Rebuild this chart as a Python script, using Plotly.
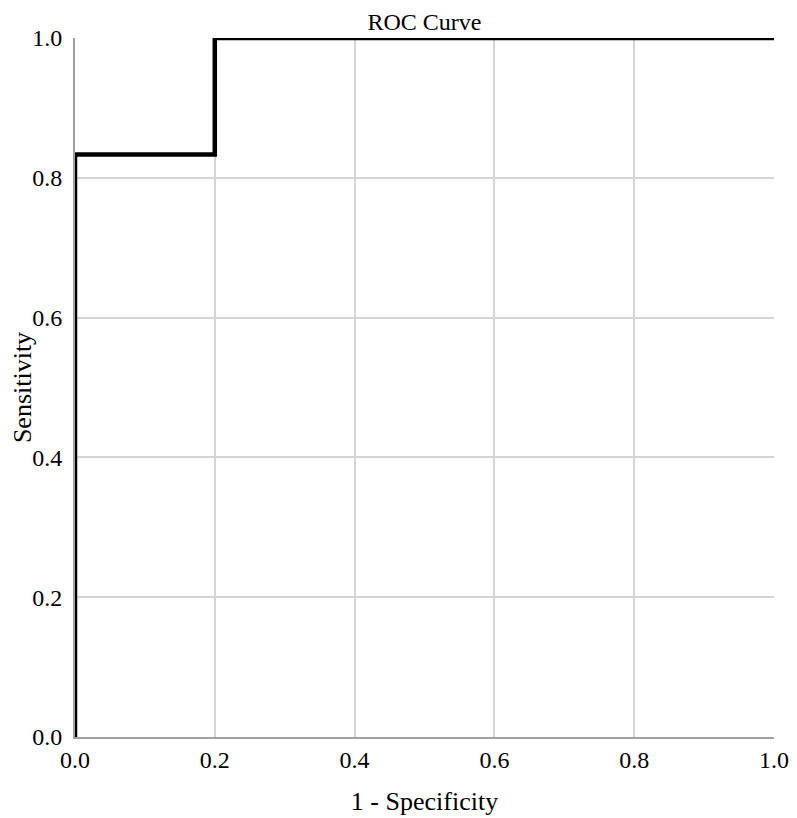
import plotly.graph_objects as go

fpr = [0.0, 0.0, 0.2, 0.2, 1.0]
tpr = [0.0, 0.8333, 0.8333, 1.0, 1.0]
ticks = [0.0, 0.2, 0.4, 0.6, 0.8, 1.0]
tick_labels = ["0.0", "0.2", "0.4", "0.6", "0.8", "1.0"]

fig = go.Figure()
fig.add_trace(go.Scatter(x=fpr, y=tpr, mode="lines",
                         line=dict(color="black", width=4.5),
                         cliponaxis=False, showlegend=False))

FAM = "Liberation Serif, Times New Roman, serif"
font = dict(family=FAM, size=24, color="black")
fig.update_layout(
    width=789, height=810,
    margin=dict(l=67, r=23, t=30, b=81),
    paper_bgcolor="white", plot_bgcolor="white",
    font=font,
    title=dict(text="ROC Curve", x=0.5, xref="paper", xanchor="center",
               y=0.983, yanchor="middle",
               font=dict(family=FAM, size=24, color="black")),
    xaxis=dict(range=[0, 1], tickvals=ticks, ticktext=tick_labels,
               showgrid=True, gridcolor="#d4d4d4", gridwidth=1.5,
               showline=True, linecolor="#a0a0a0", linewidth=2,
               zeroline=False, ticks="", automargin=False,
               ticklabelstandoff=0,
               tickfont=dict(family=FAM, size=24),
               title=dict(text="1 - Specificity", standoff=20,
                          font=dict(family=FAM, size=26))),
    yaxis=dict(range=[0, 1], tickvals=ticks, ticktext=tick_labels,
               showgrid=True, gridcolor="#d4d4d4", gridwidth=1.5,
               showline=True, linecolor="#a0a0a0", linewidth=2,
               zeroline=False, ticks="", automargin=False,
               ticklabelstandoff=6,
               tickfont=dict(family=FAM, size=24),
               title=dict(text="Sensitivity", standoff=6,
                          font=dict(family=FAM, size=26))),
)
fig.write_html("out.html")
